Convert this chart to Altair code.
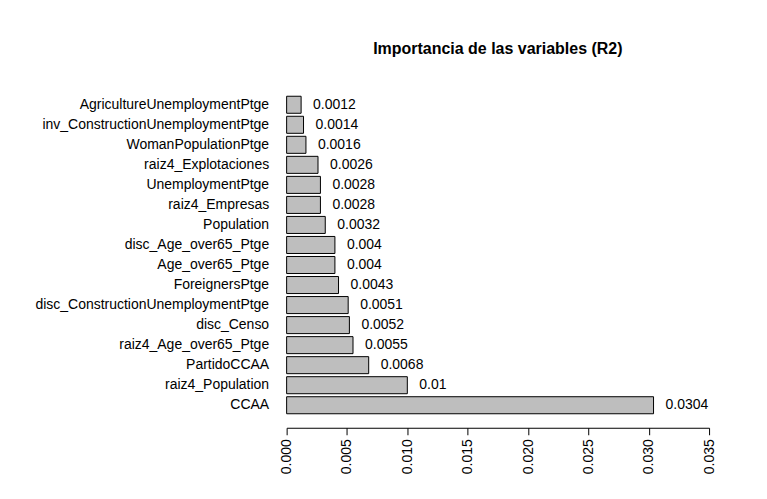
import altair as alt
import pandas as pd

variables = [
    "AgricultureUnemploymentPtge", "inv_ConstructionUnemploymentPtge",
    "WomanPopulationPtge", "raiz4_Explotaciones", "UnemploymentPtge",
    "raiz4_Empresas", "Population", "disc_Age_over65_Ptge", "Age_over65_Ptge",
    "ForeignersPtge", "disc_ConstructionUnemploymentPtge", "disc_Censo",
    "raiz4_Age_over65_Ptge", "PartidoCCAA", "raiz4_Population", "CCAA",
]
importance = [0.0012, 0.0014, 0.0016, 0.0026, 0.0028, 0.0028, 0.0032, 0.004,
              0.004, 0.0043, 0.0051, 0.0052, 0.0055, 0.0068, 0.01, 0.0304]
labels = ["0.0012", "0.0014", "0.0016", "0.0026", "0.0028", "0.0028", "0.0032",
          "0.004", "0.004", "0.0043", "0.0051", "0.0052", "0.0055", "0.0068",
          "0.01", "0.0304"]

df = pd.DataFrame({"var": variables, "imp": importance, "lab": labels})
FONT = "Liberation Sans"

y = alt.Y("var:N", sort=variables, title=None,
          scale=alt.Scale(paddingInner=0.15, paddingOuter=0.55),
          axis=alt.Axis(domain=False, ticks=False, labelPadding=18,
                        labelFontSize=14, labelColor="black", labelFont=FONT,
                        labelLimit=400))
x = alt.X("imp:Q", title=None,
          scale=alt.Scale(domain=[0, 0.035], nice=False),
          axis=alt.Axis(values=[0, 0.005, 0.01, 0.015, 0.02, 0.025, 0.03, 0.035],
                        format=".3f", labelAngle=270, labelFontSize=14,
                        labelColor="black", labelFont=FONT, tickSize=7,
                        tickColor="black", domainColor="black", grid=False,
                        labelPadding=4, offset=3))

bars = alt.Chart(df).mark_bar(color="#bebebe", stroke="black",
                              strokeWidth=1).encode(x=x, y=y)
text = alt.Chart(df).mark_text(align="left", dx=12, fontSize=14, font=FONT,
                               color="black").encode(x="imp:Q", y=alt.Y("var:N", sort=variables),
                                                     text="lab:N")

chart = (bars + text).properties(
    width=423, height=340,
    autosize=alt.AutoSizeParams(type="none"),
    padding={"left": 279, "top": 77, "right": 50, "bottom": 70},
    title=alt.TitleParams("Importancia de las variables (R2)", font=FONT,
                          fontSize=16, fontWeight="bold", color="black",
                          offset=28, anchor="middle"),
).configure_view(stroke=None)

chart.save("out.html", embed_options={"renderer": "svg", "actions": False})
